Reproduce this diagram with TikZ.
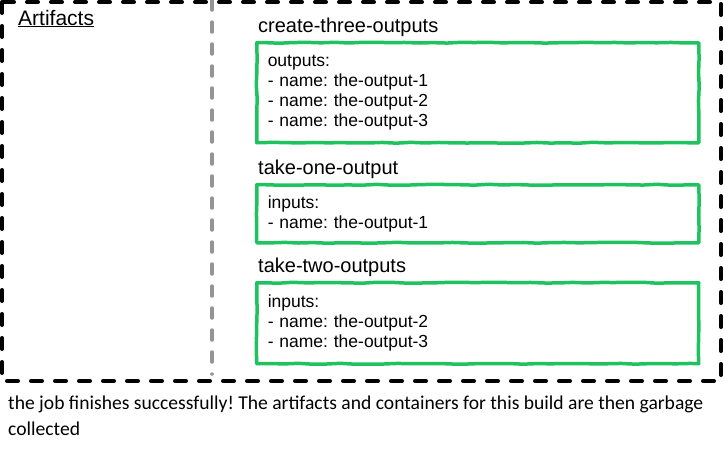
\documentclass[tikz,border=0pt]{standalone}
\usepackage{fontspec}
\setmainfont{Liberation Sans}
\newfontfamily\handfont{Carlito}
\usepackage{tikz}
\usetikzlibrary{positioning,decorations.pathmorphing}
\definecolor{jobgreen}{RGB}{30,195,95}
\frenchspacing

\begin{document}
\begin{tikzpicture}[x=1pt,y=-1pt,
    frame/.style={draw=black, line width=4pt, dash pattern=on 11pt off 13pt, line cap=round},
    split/.style={draw=black!42, line width=3.5pt, dash pattern=on 10pt off 12pt, line cap=round},
    main/.style={draw=jobgreen, line width=3.5pt, line join=round, decorate, decoration={random steps, segment length=14pt, amplitude=0.5pt},
        inner xsep=11pt, text width=420pt, align=left, anchor=north west, font=\fontsize{17.5}{20}\selectfont},
    title/.style={inner sep=0pt, font=\fontsize{20}{22}\selectfont}]
    \useasboundingbox (0,0) rectangle (724,453);

    \draw[frame] (2,2) rectangle (721,381);
    \draw[split] (212,0) -- (212,374);

    \node[title, anchor=base west, font=\fontsize{21}{22}\selectfont] (0) at (18,25) {\underline{Artifacts}};

    \node[main, minimum height=100pt] (1) at (255,41) {outputs:\\- name: the-output-1\\- name: the-output-2\\- name: the-output-3};
    \node[title] (2) [above right=4pt and 3pt of 1.north west] {create-three-outputs};

    \node[main, minimum height=58pt] (3) at (255,183) {inputs:\\- name: the-output-1};
    \node[title] (4) [above right=4pt and 3pt of 3.north west] {take-one-output};

    \node[main, minimum height=81pt] (5) at (255,281) {inputs:\\- name: the-output-2\\- name: the-output-3};
    \node[title] (6) [above right=4pt and 3pt of 5.north west] {take-two-outputs};

    \node[anchor=north west, align=left, inner sep=0pt, font=\handfont\fontsize{19.6}{26}\selectfont] (7) at (8,396)
        {the job finishes successfully! The artifacts and containers for this build are then garbage\\collected};
\end{tikzpicture}
\end{document}
